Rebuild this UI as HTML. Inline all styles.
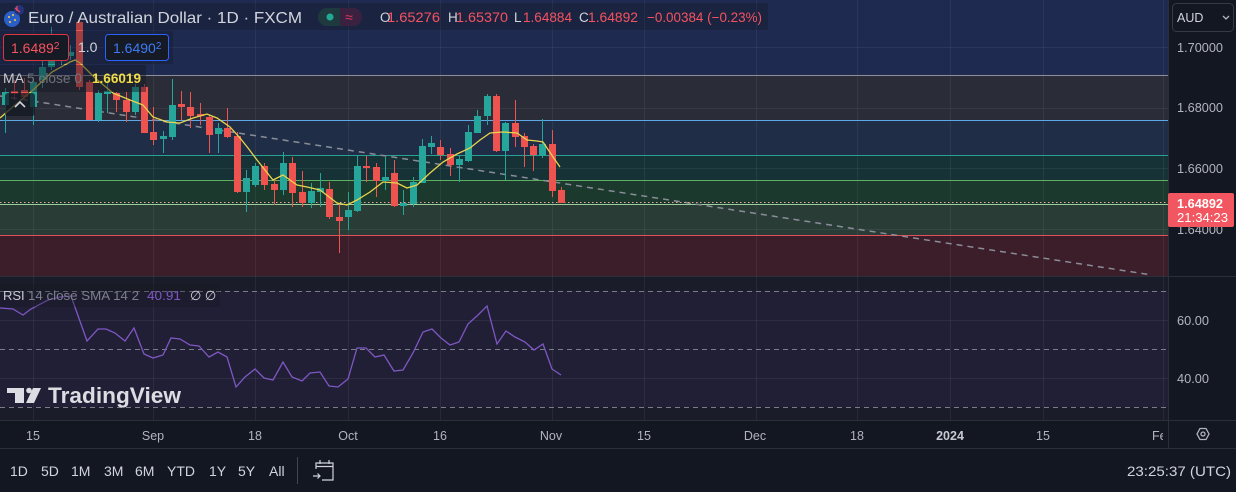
<!DOCTYPE html>
<html><head><meta charset="utf-8">
<style>
html,body{margin:0;padding:0;background:#131722;}
svg{display:block;font-family:"Liberation Sans",sans-serif;}
</style></head>
<body>
<svg width="1236" height="492" viewBox="0 0 1236 492" xmlns="http://www.w3.org/2000/svg">
<rect width="1236" height="492" fill="#131722"/>
<!-- main pane bands -->
<rect x="0" y="0" width="1168" height="75" fill="#1e2a50"/>
<rect x="0" y="75" width="1168" height="45" fill="#2a2d37"/>
<rect x="0" y="120" width="1168" height="35" fill="#1f2e46"/>
<rect x="0" y="155" width="1168" height="25" fill="#173236"/>
<rect x="0" y="180" width="1168" height="24" fill="#1b392c"/>
<rect x="0" y="204" width="1168" height="31" fill="#293d36"/>
<rect x="0" y="235" width="1168" height="41" fill="#3c1d2a"/>
<!-- RSI pane -->
<rect x="0" y="277" width="1168" height="143" fill="#1a1c29"/>
<rect x="0" y="291" width="1168" height="116" fill="#211f36"/>
<line x1="0" y1="276.5" x2="1236" y2="276.5" stroke="#2a2e39"/>
<!-- grid -->
<g stroke="rgba(255,255,255,0.06)" stroke-width="1">
<line x1="33.5" y1="0" x2="33.5" y2="420"/><line x1="153.5" y1="0" x2="153.5" y2="420"/>
<line x1="255.5" y1="0" x2="255.5" y2="420"/><line x1="348.5" y1="0" x2="348.5" y2="420"/>
<line x1="440.5" y1="0" x2="440.5" y2="420"/><line x1="552.5" y1="0" x2="552.5" y2="420"/>
<line x1="644.5" y1="0" x2="644.5" y2="420"/><line x1="756.5" y1="0" x2="756.5" y2="420"/>
<line x1="857.5" y1="0" x2="857.5" y2="420"/><line x1="950.5" y1="0" x2="950.5" y2="420"/>
<line x1="1043.5" y1="0" x2="1043.5" y2="420"/><line x1="1163.5" y1="0" x2="1163.5" y2="420"/>
<line x1="0" y1="47.5" x2="1168" y2="47.5"/><line x1="0" y1="108.5" x2="1168" y2="108.5"/>
<line x1="0" y1="168.5" x2="1168" y2="168.5"/><line x1="0" y1="229.5" x2="1168" y2="229.5"/>
<line x1="0" y1="320.5" x2="1168" y2="320.5"/><line x1="0" y1="378.5" x2="1168" y2="378.5"/>
</g>
<!-- fib lines -->
<line x1="0" y1="75.5" x2="1168" y2="75.5" stroke="#8c8f9a"/>
<line x1="0" y1="120.5" x2="1168" y2="120.5" stroke="#5fa8e8"/>
<line x1="0" y1="155.5" x2="1168" y2="155.5" stroke="#27a194"/>
<line x1="0" y1="180.5" x2="1168" y2="180.5" stroke="#5cb05f"/>
<line x1="0" y1="204.5" x2="1168" y2="204.5" stroke="#9ccc9c"/>
<line x1="0" y1="235.5" x2="1168" y2="235.5" stroke="#e0505a"/>
<!-- trend line -->
<line x1="0" y1="96" x2="1152" y2="275" stroke="#8a8d99" stroke-width="1.5" stroke-dasharray="6,5"/>
<!-- RSI dashed -->
<g stroke="#7a7d88" stroke-dasharray="5,4">
<line x1="0" y1="291.5" x2="1168" y2="291.5"/>
<line x1="0" y1="349.5" x2="1168" y2="349.5"/>
<line x1="0" y1="407.5" x2="1168" y2="407.5"/>
</g>
<!-- current price dotted -->
<line x1="0" y1="202.5" x2="1168" y2="202.5" stroke="#e9a3a3" stroke-dasharray="1.5,2.5"/>
<!-- candles -->
<g id="c">
<g fill="#26a69a">
<rect x="5" y="88" width="1" height="45"/><rect x="2" y="92" width="7" height="13"/>
<rect x="33" y="78" width="1" height="47"/><rect x="30" y="82" width="7" height="25"/>
<rect x="42" y="60" width="1" height="28"/><rect x="39" y="67" width="7" height="13"/>
<rect x="51" y="27" width="1" height="43"/><rect x="48" y="60" width="7" height="7"/>
<rect x="61" y="45" width="1" height="20"/><rect x="58" y="55" width="7" height="5"/>
<rect x="70" y="45" width="1" height="15"/><rect x="67" y="52" width="7" height="4"/>
<rect x="98" y="90" width="1" height="32"/><rect x="95" y="93" width="7" height="27"/>
<rect x="107" y="80" width="1" height="33"/><rect x="104" y="91" width="7" height="3"/>
<rect x="135" y="84" width="1" height="31"/><rect x="132" y="87" width="7" height="25"/>
<rect x="163" y="131" width="1" height="22"/><rect x="160" y="136" width="7" height="3"/>
<rect x="172" y="79" width="1" height="61"/><rect x="169" y="105" width="7" height="32"/>
<rect x="218" y="123" width="1" height="30"/><rect x="215" y="128" width="7" height="6"/>
<rect x="246" y="170" width="1" height="42"/><rect x="243" y="178" width="7" height="14"/>
<rect x="255" y="163" width="1" height="24"/><rect x="252" y="166" width="7" height="19"/>
<rect x="283" y="152" width="1" height="43"/><rect x="280" y="163" width="7" height="27"/>
<rect x="311" y="183" width="1" height="25"/><rect x="308" y="191" width="7" height="12"/>
<rect x="320" y="173" width="1" height="34"/><rect x="317" y="188" width="7" height="4"/>
<rect x="348" y="192" width="1" height="38"/><rect x="345" y="210" width="7" height="7"/>
<rect x="357" y="156" width="1" height="56"/><rect x="354" y="166" width="7" height="45"/>
<rect x="385" y="157" width="1" height="33"/><rect x="382" y="177" width="7" height="4"/>
<rect x="403" y="190" width="1" height="25"/><rect x="400" y="203" width="7" height="3"/>
<rect x="413" y="177" width="1" height="30"/><rect x="410" y="182" width="7" height="22"/>
<rect x="422" y="139" width="1" height="44"/><rect x="419" y="146" width="7" height="37"/>
<rect x="431" y="136" width="1" height="18"/><rect x="428" y="143" width="7" height="4"/>
<rect x="459" y="155" width="1" height="27"/><rect x="456" y="159" width="7" height="6"/>
<rect x="468" y="125" width="1" height="37"/><rect x="465" y="132" width="7" height="29"/>
<rect x="477" y="110" width="1" height="23"/><rect x="474" y="116" width="7" height="17"/>
<rect x="487" y="94" width="1" height="31"/><rect x="484" y="96" width="7" height="20"/>
<rect x="505" y="122" width="1" height="58"/><rect x="502" y="123" width="7" height="28"/>
<rect x="542" y="119" width="1" height="39"/><rect x="539" y="144" width="7" height="12"/>
</g>
<g fill="#ef5350">
<rect x="14" y="80" width="1" height="20"/><rect x="11" y="91" width="7" height="3"/>
<rect x="24" y="78" width="1" height="22"/><rect x="21" y="90" width="7" height="7"/>
<rect x="79" y="18" width="1" height="72"/><rect x="76" y="22" width="7" height="65"/>
<rect x="89" y="80" width="1" height="40"/><rect x="86" y="82" width="7" height="38"/>
<rect x="116" y="92" width="1" height="20"/><rect x="113" y="93" width="7" height="7"/>
<rect x="126" y="92" width="1" height="30"/><rect x="123" y="100" width="7" height="12"/>
<rect x="144" y="84" width="1" height="49"/><rect x="141" y="87" width="7" height="46"/>
<rect x="153" y="107" width="1" height="38"/><rect x="150" y="132" width="7" height="8"/>
<rect x="181" y="91" width="1" height="29"/><rect x="178" y="104" width="7" height="3"/>
<rect x="190" y="92" width="1" height="36"/><rect x="187" y="107" width="7" height="9"/>
<rect x="200" y="103" width="1" height="22"/><rect x="197" y="114" width="7" height="2"/>
<rect x="209" y="115" width="1" height="38"/><rect x="206" y="117" width="7" height="18"/>
<rect x="227" y="108" width="1" height="30"/><rect x="224" y="128" width="7" height="9"/>
<rect x="237" y="132" width="1" height="61"/><rect x="234" y="136" width="7" height="56"/>
<rect x="264" y="163" width="1" height="27"/><rect x="261" y="166" width="7" height="19"/>
<rect x="274" y="180" width="1" height="25"/><rect x="271" y="184" width="7" height="6"/>
<rect x="292" y="157" width="1" height="50"/><rect x="289" y="163" width="7" height="30"/>
<rect x="302" y="171" width="1" height="36"/><rect x="299" y="192" width="7" height="11"/>
<rect x="329" y="182" width="1" height="37"/><rect x="326" y="189" width="7" height="28"/>
<rect x="339" y="203" width="1" height="50"/><rect x="336" y="217" width="7" height="4"/>
<rect x="366" y="156" width="1" height="26"/><rect x="363" y="166" width="7" height="2"/>
<rect x="376" y="163" width="1" height="34"/><rect x="373" y="167" width="7" height="14"/>
<rect x="394" y="160" width="1" height="47"/><rect x="391" y="173" width="7" height="33"/>
<rect x="440" y="140" width="1" height="20"/><rect x="437" y="147" width="7" height="8"/>
<rect x="450" y="148" width="1" height="28"/><rect x="447" y="154" width="7" height="11"/>
<rect x="496" y="94" width="1" height="58"/><rect x="493" y="96" width="7" height="55"/>
<rect x="515" y="100" width="1" height="47"/><rect x="512" y="123" width="7" height="14"/>
<rect x="524" y="133" width="1" height="34"/><rect x="521" y="136" width="7" height="11"/>
<rect x="533" y="144" width="1" height="27"/><rect x="530" y="146" width="7" height="9"/>
<rect x="552" y="130" width="1" height="67"/><rect x="549" y="144" width="7" height="47"/>
<rect x="561" y="187" width="1" height="16"/><rect x="558" y="190" width="7" height="13"/>
</g>
</g>
<!-- MA line -->
<polyline fill="none" stroke="#e8d44d" stroke-width="1.3" points="0,118 15,105 33,90 52,72 70,62 75,60 80,63 95,78 113,93 130,100 143,105 153,117 167,122 180,123 193,118 207,114 217,118 230,127 240,138 248,148 257,160 273,180 283,175 297,185 307,187 320,190 337,203 347,205 357,200 370,192 383,182 397,183 407,188 417,185 430,173 443,162 457,154 470,148 480,140 490,133 503,132 517,133 527,140 537,141 543,142 553,157 560,167"/>
<!-- RSI line -->
<polyline fill="none" stroke="#7e57c2" stroke-width="1.3" points="0,308 13,309 23,315 31,309 48,300 60,297 71,296 87,341 98,329 106,329 115,333 125,341 134,328 144,354 153,358 163,355 171,338 180,339 190,345 199,346 209,357 218,352 227,357 236,387 245,377 255,369 264,378 273,380 283,362 292,377 302,381 310,373 320,372 329,386 338,387 348,379 357,348 366,348 375,357 384,355 394,371 403,370 413,353 423,332 432,329 441,338 450,345 459,342 468,324 478,315 487,306 497,344 506,331 515,337 525,342 534,350 543,344 552,369 561,375"/>

<!-- header overlays -->
<rect x="0" y="3" width="768" height="27" fill="rgba(19,23,34,0.3)"/>
<rect x="0" y="31" width="173" height="33" fill="rgba(19,23,34,0.35)"/>
<rect x="0" y="65" width="146" height="27" fill="rgba(19,23,34,0.45)"/>
<!-- flag icon -->
<circle cx="12" cy="19" r="8" fill="#2a5fc8"/>
<circle cx="9" cy="17" r="1" fill="#f5d142"/><circle cx="13" cy="15" r="1" fill="#f5d142"/><circle cx="15" cy="20" r="1" fill="#f5d142"/><circle cx="10" cy="22" r="1" fill="#f5d142"/>
<circle cx="19" cy="10" r="5" fill="#26337a"/>
<path d="M15,8 L20,12 M17,6 L17,11" stroke="#e84a5a" stroke-width="1.3"/>
<text x="28" y="23" font-size="16" fill="#d1d4dc" textLength="274" lengthAdjust="spacingAndGlyphs">Euro / Australian Dollar · 1D · FXCM</text>
<!-- pill -->
<rect x="318" y="8" width="44" height="18" rx="9" fill="#1f3a3f"/>
<path d="M340,8 H353 A9,9 0 0 1 353,26 H340 Z" fill="#3a2140"/>
<circle cx="330" cy="17" r="3.5" fill="#22ab94"/>
<text x="349" y="22" font-size="14" fill="#e5355f" text-anchor="middle">≈</text>
<!-- OHLC -->
<g font-size="13.5">
<text x="380" y="22" fill="#d1d4dc">O</text>
<text x="387" y="22" fill="#f7525f" textLength="53" lengthAdjust="spacingAndGlyphs">1.65276</text>
<text x="448" y="22" fill="#d1d4dc">H</text>
<text x="456" y="22" fill="#f7525f" textLength="52" lengthAdjust="spacingAndGlyphs">1.65370</text>
<text x="514" y="22" fill="#d1d4dc">L</text>
<text x="523" y="22" fill="#f7525f" textLength="49" lengthAdjust="spacingAndGlyphs">1.64884</text>
<text x="579" y="22" fill="#d1d4dc">C</text>
<text x="588" y="22" fill="#f7525f" textLength="50" lengthAdjust="spacingAndGlyphs">1.64892</text>
<text x="647" y="22" fill="#f7525f" textLength="115" lengthAdjust="spacingAndGlyphs">−0.00384 (−0.23%)</text>
</g>
<!-- price boxes -->
<rect x="3.5" y="34.5" width="65" height="26" rx="3" fill="#161a25" stroke="#e0353f"/>
<text x="11" y="53" font-size="14" fill="#f7525f">1.6489<tspan font-size="10" dy="-4">2</tspan></text>
<text x="78" y="52" font-size="14" fill="#d1d4dc">1.0</text>
<rect x="105.5" y="34.5" width="63" height="26" rx="3" fill="#161a25" stroke="#2962ff"/>
<text x="113" y="53" font-size="14" fill="#3d7bf5">1.6490<tspan font-size="10" dy="-4">2</tspan></text>
<!-- MA label -->
<text x="3" y="83" font-size="14" fill="#c8cad2">MA</text>
<text x="27" y="83" font-size="14" fill="#6f737f" textLength="55" lengthAdjust="spacingAndGlyphs">5 close 0</text>
<text x="92" y="83" font-size="14" font-weight="bold" fill="#f0dd45" textLength="49" lengthAdjust="spacingAndGlyphs">1.66019</text>
<!-- collapse button -->
<rect x="5" y="93" width="30" height="23" rx="3" fill="rgba(19,23,34,0.75)"/>
<path d="M15,107 L20,102 L25,107" fill="none" stroke="#d1d4dc" stroke-width="1.6"/>
<!-- RSI label -->
<rect x="0" y="284" width="220" height="23" fill="rgba(19,23,34,0.3)"/>
<text x="3" y="300" font-size="13" fill="#c8cad2">RSI</text>
<text x="28" y="300" font-size="13" fill="#7d808b" textLength="111" lengthAdjust="spacingAndGlyphs">14 close SMA 14 2</text>
<text x="147" y="300" font-size="13" fill="#7e57c2" textLength="34" lengthAdjust="spacingAndGlyphs">40.91</text>
<text x="190" y="300" font-size="13" fill="#d1d4dc">∅ ∅</text>
<!-- TradingView logo -->
<g fill="#dcdde2">
<rect x="7" y="388" width="17" height="5"/>
<rect x="15" y="388" width="9" height="15"/>
<circle cx="29" cy="390.5" r="2.8"/>
<polygon points="33,388 41,388 34,403 26,403"/>
</g>
<text x="48" y="403" font-size="22" font-weight="bold" fill="#dcdde2" textLength="133" lengthAdjust="spacingAndGlyphs">TradingView</text>

<!-- price axis -->
<rect x="1168" y="0" width="68" height="448" fill="#131722"/>
<line x1="1168.5" y1="0" x2="1168.5" y2="448" stroke="#2a2e39"/>
<line x1="1168" y1="276.5" x2="1236" y2="276.5" stroke="#2a2e39"/>
<rect x="1172.5" y="3.5" width="61" height="28" rx="4" fill="none" stroke="#363a45"/>
<text x="1177" y="22" font-size="12.5" fill="#d1d4dc">AUD</text>
<path d="M1223,16 L1226,19 L1229,16" fill="none" stroke="#b2b5be" stroke-width="1.3"/>
<g font-size="12.5" fill="#b2b5be">
<text x="1177" y="52" textLength="46" lengthAdjust="spacingAndGlyphs">1.70000</text>
<text x="1177" y="112" textLength="46" lengthAdjust="spacingAndGlyphs">1.68000</text>
<text x="1177" y="173" textLength="46" lengthAdjust="spacingAndGlyphs">1.66000</text>
<text x="1177" y="234" textLength="46" lengthAdjust="spacingAndGlyphs">1.64000</text>
<text x="1177" y="325" textLength="32" lengthAdjust="spacingAndGlyphs">60.00</text>
<text x="1177" y="383" textLength="32" lengthAdjust="spacingAndGlyphs">40.00</text>
</g>
<rect x="1168" y="193" width="66" height="34" rx="2" fill="#f25660"/>
<text x="1177" y="208" font-size="12.5" font-weight="bold" fill="#ffffff" textLength="46" lengthAdjust="spacingAndGlyphs">1.64892</text>
<text x="1177" y="222" font-size="12.5" fill="#ffffff" textLength="51" lengthAdjust="spacingAndGlyphs">21:34:23</text>

<!-- time axis -->
<rect x="0" y="420" width="1168" height="28" fill="#131722"/>
<line x1="0" y1="420.5" x2="1236" y2="420.5" stroke="#2a2e39"/>
<line x1="0" y1="448.5" x2="1236" y2="448.5" stroke="#2a2e39"/>
<line x1="1168.5" y1="420" x2="1168.5" y2="448" stroke="#2a2e39"/>
<g font-size="12.5" fill="#b2b5be" text-anchor="middle">
<text x="33" y="440">15</text>
<text x="153" y="440">Sep</text>
<text x="255" y="440">18</text>
<text x="348" y="440">Oct</text>
<text x="440" y="440">16</text>
<text x="551" y="440">Nov</text>
<text x="644" y="440">15</text>
<text x="755" y="440">Dec</text>
<text x="857" y="440">18</text>
<text x="950" y="440" font-weight="bold" fill="#c8cad2">2024</text>
<text x="1043" y="440">15</text>
</g>
<text x="1152" y="440" font-size="12.5" fill="#b2b5be">Fe</text>
<rect x="1163" y="425" width="5" height="20" fill="#131722"/>
<!-- gear -->
<polygon points="1197,434 1200,428.5 1206,428.5 1209,434 1206,439.5 1200,439.5" fill="none" stroke="#b2b5be" stroke-width="1.3"/>
<circle cx="1203" cy="434" r="2" fill="none" stroke="#b2b5be" stroke-width="1.3"/>

<!-- bottom toolbar -->
<g font-size="14" fill="#d1d4dc">
<text x="10" y="476">1D</text>
<text x="41" y="476">5D</text>
<text x="71" y="476">1M</text>
<text x="104" y="476">3M</text>
<text x="135" y="476">6M</text>
<text x="167" y="476">YTD</text>
<text x="209" y="476">1Y</text>
<text x="238" y="476">5Y</text>
<text x="269" y="476">All</text>
<text x="1231" y="476" text-anchor="end" textLength="104" lengthAdjust="spacingAndGlyphs">23:25:37 (UTC)</text>
</g>
<line x1="297.5" y1="457" x2="297.5" y2="484" stroke="#434651"/>
<g fill="none" stroke="#d1d4dc" stroke-width="1.2">
<path d="M316,469 V463 H333 V480 H322"/>
<line x1="316" y1="466.5" x2="333" y2="466.5"/>
<line x1="320" y1="460" x2="320" y2="464"/>
<line x1="329" y1="460" x2="329" y2="464"/>
<path d="M313,476 H320 M317.5,473.5 L320,476 L317.5,478.5"/>
</g>
</svg>
</body></html>
